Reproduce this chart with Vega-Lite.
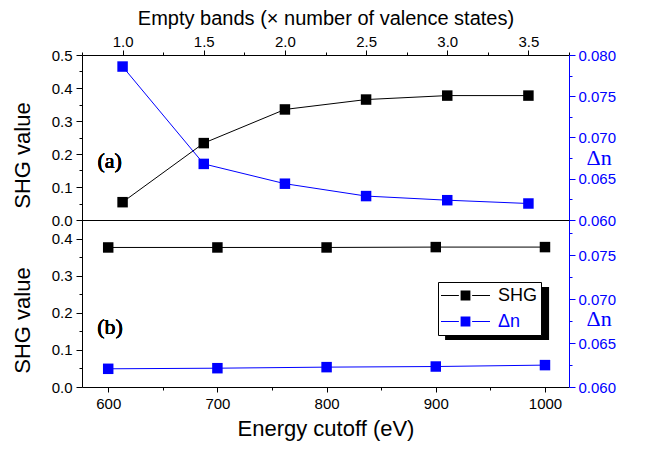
{
  "$schema": "https://vega.github.io/schema/vega-lite/v6.json",
  "padding": {"left": 11, "top": 8, "right": 5, "bottom": 5},
  "background": "white",
  "spacing": 0,
  "bounds": "flush",
  "resolve": {"scale": {"color": "independent"}, "legend": {"color": "independent"}},
  "config": {
    "view": {"stroke": null},
    "font": "Liberation Sans",
    "axis": {"grid": false, "labelFont": "Liberation Sans", "titleFont": "Liberation Sans", "labelFontSize": 15, "titleFontSize": 21, "titleFontWeight": "normal", "labelColor": "black", "titleColor": "black", "domainColor": "black", "tickColor": "black", "labelFlush": false, "labelOverlap": false, "tickSize": 6, "labelPadding": 4, "domainWidth": 1, "tickWidth": 1}
  },
  "vconcat": [
    {
      "width": 487,
      "height": 165,
      "data": {"values": [
        {"bands": 1.0, "SHG": 0.054, "dn": 0.0786},
        {"bands": 1.5, "SHG": 0.233, "dn": 0.0668},
        {"bands": 2.0, "SHG": 0.335, "dn": 0.0644},
        {"bands": 2.5, "SHG": 0.365, "dn": 0.0629},
        {"bands": 3.0, "SHG": 0.377, "dn": 0.0624},
        {"bands": 3.5, "SHG": 0.377, "dn": 0.0620}
      ]},
      "resolve": {"scale": {"y": "independent"}, "axis": {"x": "independent", "y": "independent"}},
      "layer": [
        {
          "mark": {"type": "line", "color": "black", "strokeWidth": 1},
          "encoding": {
            "x": {"field": "bands", "type": "quantitative", "scale": {"domain": [0.75, 3.75], "nice": false, "zero": false},
                  "axis": {"orient": "top", "values": [1, 1.5, 2, 2.5, 3, 3.5], "format": ".1f", "title": "Empty bands (× number of valence states)", "titleFontSize": 20, "tickSize": 5, "labelPadding": 1, "titlePadding": 6}},
            "y": {"field": "SHG", "type": "quantitative", "scale": {"domain": [0, 0.5], "nice": false, "zero": false},
                  "axis": {"orient": "left", "values": [0, 0.1, 0.2, 0.3, 0.4, 0.5], "format": ".1f", "title": "SHG value", "titleX": -60, "titleY": 100, "titleBaseline": "middle", "titleFontSize": 22}}
          }
        },
        {
          "mark": {"type": "point", "shape": "square", "filled": true, "size": 110, "opacity": 1, "color": "black"},
          "encoding": {
            "x": {"field": "bands", "type": "quantitative", "axis": null},
            "y": {"field": "SHG", "type": "quantitative", "scale": {"domain": [0, 0.5], "nice": false, "zero": false}, "axis": null}
          }
        },
        {
          "mark": {"type": "line", "color": "#0000ff", "strokeWidth": 1},
          "encoding": {
            "x": {"field": "bands", "type": "quantitative", "axis": null},
            "y": {"field": "dn", "type": "quantitative", "scale": {"domain": [0.06, 0.08], "nice": false, "zero": false},
                  "axis": {"orient": "right", "values": [0.06, 0.065, 0.07, 0.075, 0.08], "format": ".3f", "title": "Δn", "titleAngle": 0, "titleX": 17, "titleY": 102, "titleAlign": "left", "titleBaseline": "middle", "titleFont": "Liberation Serif", "titleFontWeight": "normal", "titleFontSize": 22, "titleColor": "#0000ff", "labelColor": "#0000ff", "domainColor": "#0000ff", "tickColor": "#0000ff", "labelPadding": 3}}
          }
        },
        {
          "mark": {"type": "point", "shape": "square", "filled": true, "size": 110, "opacity": 1, "color": "#0000ff"},
          "encoding": {
            "x": {"field": "bands", "type": "quantitative", "axis": null},
            "y": {"field": "dn", "type": "quantitative", "scale": {"domain": [0.06, 0.08], "nice": false, "zero": false}, "axis": null}
          }
        },
        {
          "mark": {"type": "point", "opacity": 0},
          "encoding": {
            "x": {"field": "bands", "type": "quantitative",
                  "axis": {"orient": "top", "values": [0.75, 1.25, 1.75, 2.25, 2.75, 3.25, 3.75], "labels": false, "domain": false, "tickSize": 3, "title": null}},
            "y": {"field": "SHG", "type": "quantitative", "scale": {"domain": [0, 0.5], "nice": false, "zero": false},
                  "axis": {"orient": "left", "values": [0.05, 0.15, 0.25, 0.35, 0.45], "labels": false, "domain": false, "tickSize": 3, "title": null}}
          }
        },
        {
          "mark": {"type": "point", "opacity": 0},
          "encoding": {
            "x": {"field": "bands", "type": "quantitative",
                  "axis": {"orient": "bottom", "values": [1, 1.5, 2, 2.5, 3, 3.5], "labels": false, "domain": true, "ticks": false, "title": null}},
            "y": {"field": "dn", "type": "quantitative", "scale": {"domain": [0.06, 0.08], "nice": false, "zero": false},
                  "axis": {"orient": "right", "values": [0.0625, 0.0675, 0.0725, 0.0775], "labels": false, "domain": false, "tickSize": 3, "tickColor": "#0000ff", "title": null}}
          }
        },
        {
          "mark": {"type": "text", "font": "Liberation Serif", "fontSize": 22, "fontWeight": "normal", "align": "center", "baseline": "middle", "color": "black"},
          "encoding": {
            "x": {"datum": 0.92, "type": "quantitative", "axis": null},
            "y": {"datum": 0.18, "type": "quantitative", "scale": {"domain": [0, 0.5], "nice": false, "zero": false}, "axis": null},
            "text": {"value": "(a)"}
          }
        }
      ]
    },
    {
      "width": 487,
      "height": 167,
      "data": {"values": [
        {"cutoff": 600, "SHG": 0.376, "dn": 0.06207},
        {"cutoff": 700, "SHG": 0.376, "dn": 0.06214},
        {"cutoff": 800, "SHG": 0.376, "dn": 0.06226},
        {"cutoff": 900, "SHG": 0.377, "dn": 0.06233},
        {"cutoff": 1000, "SHG": 0.377, "dn": 0.06249}
      ]},
      "resolve": {"scale": {"y": "independent"}, "axis": {"x": "independent", "y": "independent"}},
      "layer": [
        {
          "mark": {"type": "rect", "color": "black"},
          "encoding": {
            "x": {"datum": 909, "type": "quantitative", "axis": null},
            "x2": {"datum": 1003.7},
            "y": {"datum": 0.2695, "type": "quantitative", "scale": {"domain": [0, 0.45], "nice": false, "zero": false}, "axis": null},
            "y2": {"datum": 0.1266}
          }
        },
        {
          "mark": {"type": "line", "color": "black", "strokeWidth": 1},
          "encoding": {
            "x": {"field": "cutoff", "type": "quantitative", "scale": {"domain": [576, 1022], "nice": false, "zero": false},
                  "axis": {"orient": "bottom", "values": [600, 700, 800, 900, 1000], "format": "d", "title": "Energy cutoff (eV)", "titleFontSize": 22, "tickSize": 5, "labelPadding": 4, "titlePadding": 7}},
            "y": {"field": "SHG", "type": "quantitative", "scale": {"domain": [0, 0.45], "nice": false, "zero": false},
                  "axis": {"orient": "left", "values": [0, 0.1, 0.2, 0.3, 0.4], "format": ".1f", "title": "SHG value", "titleX": -60, "titleY": 100, "titleBaseline": "middle", "titleFontSize": 22}}
          }
        },
        {
          "mark": {"type": "point", "shape": "square", "filled": true, "size": 110, "opacity": 1},
          "encoding": {
            "x": {"field": "cutoff", "type": "quantitative", "axis": null},
            "y": {"field": "SHG", "type": "quantitative", "scale": {"domain": [0, 0.45], "nice": false, "zero": false}, "axis": null},
            "color": {"datum": "SHG", "type": "nominal", "scale": {"domain": ["SHG", "Δn"], "range": ["#000000", "#0000ff"]},
                      "legend": {"orient": "none", "legendX": 356, "legendY": 62, "title": null,
                                 "symbolType": "M-1,-0.022L-0.27,-0.022L-0.27,0.022L-1,0.022ZM-0.2,-0.2L0.2,-0.2L0.2,0.2L-0.2,0.2ZM0.27,-0.022L1,-0.022L1,0.022L0.27,0.022Z",
                                 "symbolSize": 2400, "symbolStrokeWidth": 0, "symbolOpacity": 1, "clipHeight": 21, "rowPadding": 5,
                                 "labelFont": "Liberation Sans", "labelFontSize": 18, "labelOffset": 8, "padding": 3,
                                 "labelColor": {"expr": "datum.value === 'SHG' ? '#000000' : '#0000ff'"},
                                 "fillColor": "white", "strokeColor": "black", "cornerRadius": 0}}
          }
        },
        {
          "mark": {"type": "line", "color": "#0000ff", "strokeWidth": 1},
          "encoding": {
            "x": {"field": "cutoff", "type": "quantitative", "axis": null},
            "y": {"field": "dn", "type": "quantitative", "scale": {"domain": [0.06, 0.079], "nice": false, "zero": false},
                  "axis": {"orient": "right", "values": [0.06, 0.065, 0.07, 0.075], "format": ".3f", "title": "Δn", "titleAngle": 0, "titleX": 17, "titleY": 98, "titleAlign": "left", "titleBaseline": "middle", "titleFont": "Liberation Serif", "titleFontWeight": "normal", "titleFontSize": 22, "titleColor": "#0000ff", "labelColor": "#0000ff", "domainColor": "#0000ff", "tickColor": "#0000ff", "labelPadding": 3}}
          }
        },
        {
          "mark": {"type": "point", "shape": "square", "filled": true, "size": 110, "opacity": 1},
          "encoding": {
            "x": {"field": "cutoff", "type": "quantitative", "axis": null},
            "y": {"field": "dn", "type": "quantitative", "scale": {"domain": [0.06, 0.079], "nice": false, "zero": false}, "axis": null},
            "color": {"datum": "Δn", "type": "nominal"}
          }
        },
        {
          "mark": {"type": "point", "opacity": 0},
          "encoding": {
            "x": {"field": "cutoff", "type": "quantitative",
                  "axis": {"orient": "bottom", "values": [650, 750, 850, 950], "labels": false, "domain": false, "tickSize": 3, "title": null}},
            "y": {"field": "SHG", "type": "quantitative", "scale": {"domain": [0, 0.45], "nice": false, "zero": false},
                  "axis": {"orient": "left", "values": [0.05, 0.15, 0.25, 0.35, 0.45], "labels": false, "domain": false, "tickSize": 3, "title": null}}
          }
        },
        {
          "mark": {"type": "point", "opacity": 0},
          "encoding": {
            "x": {"field": "cutoff", "type": "quantitative",
                  "axis": {"orient": "top", "values": [600, 700, 800, 900, 1000], "labels": false, "domain": true, "ticks": false, "title": null}},
            "y": {"field": "dn", "type": "quantitative", "scale": {"domain": [0.06, 0.079], "nice": false, "zero": false},
                  "axis": {"orient": "right", "values": [0.0625, 0.0675, 0.0725, 0.0775], "labels": false, "domain": false, "tickSize": 3, "tickColor": "#0000ff", "title": null}}
          }
        },
        {
          "mark": {"type": "text", "font": "Liberation Serif", "fontSize": 22, "fontWeight": "normal", "align": "center", "baseline": "middle", "color": "black"},
          "encoding": {
            "x": {"datum": 601.6, "type": "quantitative", "axis": null},
            "y": {"datum": 0.162, "type": "quantitative", "scale": {"domain": [0, 0.45], "nice": false, "zero": false}, "axis": null},
            "text": {"value": "(b)"}
          }
        }
      ]
    }
  ]
}
